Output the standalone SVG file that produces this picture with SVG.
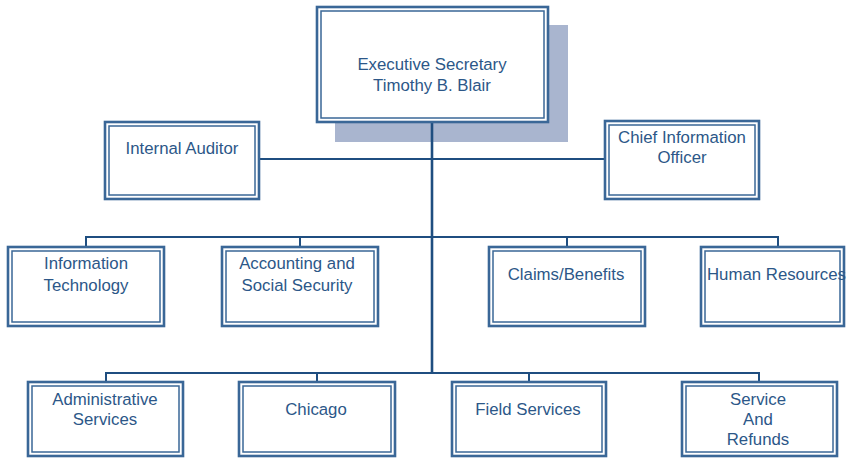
<svg xmlns="http://www.w3.org/2000/svg" width="846" height="458" viewBox="0 0 846 458">
<style>
.o{fill:#fff;stroke:#3a6797;stroke-width:2.6}
.i{fill:none;stroke:#3a6797;stroke-width:1.5}
.t{font-family:"Liberation Sans",Arial,sans-serif;font-size:16.8px;fill:#2c5788;text-anchor:middle}
.c{stroke:#1f4e80;fill:none}
</style>
<rect width="846" height="458" fill="#fff"/>
<rect x="335" y="25" width="233" height="117" fill="#a9b5cf"/>
<g id="connectors">
<path class="c" stroke-width="2.6" d="M432,122V373"/>
<path class="c" stroke-width="2" d="M259,159H605M86,247V237H778V247M300,237V247M567,237V247M106,382V373H759V382M317,373V382M529,373V382"/>
</g>
<g id="exec"><rect class="o" x="317" y="7" width="231" height="115"/><rect class="i" x="321" y="11" width="223" height="107"/><text class="t" x="432" y="70">Executive Secretary</text><text class="t" x="432" y="91">Timothy B. Blair</text></g>
<g id="auditor"><rect class="o" x="105" y="122" width="154" height="77"/><rect class="i" x="109" y="126" width="146" height="69"/><text class="t" x="182" y="154">Internal Auditor</text></g>
<g id="cio"><rect class="o" x="605" y="121" width="154" height="78"/><rect class="i" x="609" y="125" width="146" height="70"/><text class="t" x="682" y="143">Chief Information</text><text class="t" x="682" y="163">Officer</text></g>
<g id="it"><rect class="o" x="8" y="247" width="156" height="79"/><rect class="i" x="12" y="251" width="148" height="71"/><text class="t" x="86" y="269">Information</text><text class="t" x="86" y="291">Technology</text></g>
<g id="acct"><rect class="o" x="222" y="247" width="156" height="79"/><rect class="i" x="226" y="251" width="148" height="71"/><text class="t" x="297" y="269">Accounting and</text><text class="t" x="297" y="291">Social Security</text></g>
<g id="claims"><rect class="o" x="489" y="247" width="156" height="79"/><rect class="i" x="493" y="251" width="148" height="71"/><text class="t" x="566" y="280">Claims/Benefits</text></g>
<g id="hr"><rect class="o" x="701" y="247" width="143" height="79"/><rect class="i" x="705" y="251" width="135" height="71"/><text class="t" x="707" y="280" style="text-anchor:start">Human Resources</text></g>
<g id="admin"><rect class="o" x="28" y="382" width="155" height="74"/><rect class="i" x="32" y="386" width="147" height="66"/><text class="t" x="105" y="405">Administrative</text><text class="t" x="105" y="425">Services</text></g>
<g id="chicago"><rect class="o" x="239" y="382" width="156" height="74"/><rect class="i" x="243" y="386" width="148" height="66"/><text class="t" x="316" y="415">Chicago</text></g>
<g id="field"><rect class="o" x="452" y="382" width="154" height="74"/><rect class="i" x="456" y="386" width="146" height="66"/><text class="t" x="528" y="415">Field Services</text></g>
<g id="service"><rect class="o" x="682" y="382" width="155" height="74"/><rect class="i" x="686" y="386" width="147" height="66"/><text class="t" x="758" y="405">Service</text><text class="t" x="758" y="425">And</text><text class="t" x="758" y="445">Refunds</text></g>
</svg>
